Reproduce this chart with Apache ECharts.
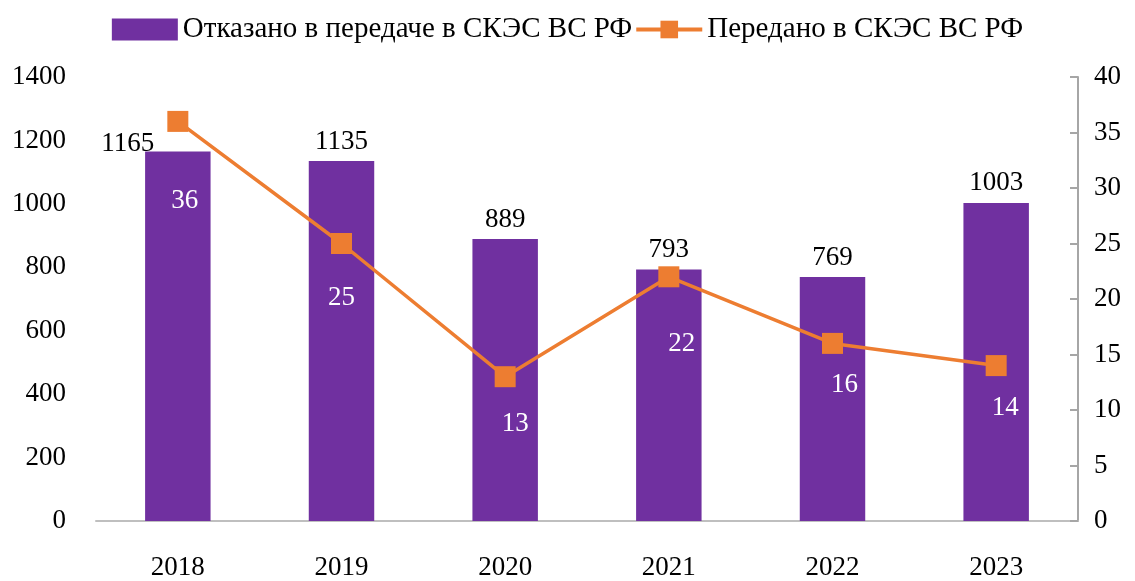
<!DOCTYPE html>
<html>
<head>
<meta charset="utf-8">
<script src="https://cdn.jsdelivr.net/npm/echarts@6/dist/echarts.min.js"></script>
<style>
  html, body { margin: 0; padding: 0; background: #fff; }
  #main { width: 1135px; height: 581px; }
</style>
</head>
<body>
<div id="main"></div>
<script>
const years = ['2018', '2019', '2020', '2021', '2022', '2023'];
const refused = [1165, 1135, 889, 793, 769, 1003];
const transferred = [36, 25, 13, 22, 16, 14];

const chart = echarts.init(document.getElementById('main'));
const font = '"Liberation Serif", "Times New Roman", serif';

// Excel-style manually moved labels
const lineLabelShift = [[7, 56], [0, 30], [10, 23], [13, 43], [12, 18], [9, 18]];

var option = {
  backgroundColor: '#ffffff',
  animation: false,
  textStyle: { fontFamily: font },
  legend: {
    top: 10,
    left: 'center',
    itemGap: 2,
    itemWidth: 66,
    itemHeight: 22,
    textStyle: { fontFamily: font, fontSize: 29, color: '#000' },
    data: [
      { name: 'Отказано в передаче в СКЭС ВС РФ', icon: 'rect' },
      { name: 'Передано в СКЭС ВС РФ', lineStyle: { width: 4 } }
    ]
  },
  grid: { left: 96, right: 57, top: 77, bottom: 58 },
  xAxis: {
    type: 'category',
    data: years,
    axisLine: { lineStyle: { color: '#BFBFBF', width: 2 } },
    axisTick: { show: false },
    axisLabel: { fontFamily: font, fontSize: 27, color: '#000', margin: 33 }
  },
  yAxis: [{
    type: 'value',
    min: 0, max: 1400, interval: 200,
    splitLine: { show: false },
    axisLine: { show: false },
    axisTick: { show: false },
    axisLabel: {
      fontFamily: font, fontSize: 27, color: '#000', margin: 30,
      formatter: v => String(v)
    }
  }, {
    type: 'value',
    min: 0, max: 40, interval: 5,
    position: 'right',
    splitLine: { show: false },
    axisLine: { show: true, lineStyle: { color: '#A6A6A6', width: 2 } },
    axisTick: { show: true, inside: true, length: 8, lineStyle: { color: '#A6A6A6', width: 2 } },
    axisLabel: { fontFamily: font, fontSize: 27, color: '#000', margin: 16 }
  }],
  series: [{
    name: 'Отказано в передаче в СКЭС ВС РФ',
    type: 'bar',
    barWidth: '40%',
    itemStyle: { color: '#7030A0' },
    label: {
      show: true, position: 'top', distance: 6,
      fontFamily: font, fontSize: 27, color: '#000'
    },
    data: refused.map((v, i) => i === 0
      ? { value: v, label: { offset: [-50, 12] } }
      : v)
  }, {
    name: 'Передано в СКЭС ВС РФ',
    type: 'line',
    yAxisIndex: 1,
    symbol: 'rect',
    symbolSize: 21,
    lineStyle: { color: '#ED7D31', width: 3.5 },
    itemStyle: { color: '#ED7D31' },
    label: {
      show: true, position: 'bottom', distance: 0,
      fontFamily: font, fontSize: 27, color: '#fff'
    },
    data: transferred.map((v, i) => ({ value: v, label: { offset: lineLabelShift[i] } }))
  }]
};

chart.setOption(option);
</script>
</body>
</html>
